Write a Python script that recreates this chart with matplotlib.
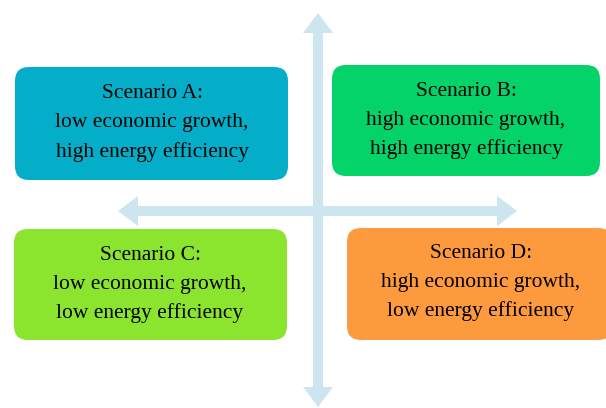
import matplotlib
matplotlib.use("Agg")
import matplotlib.pyplot as plt
from matplotlib.patches import FancyBboxPatch, FancyArrow

# === Contenu des quatre scénarios ===
titles = ["Scenario A:", "Scenario B:", "Scenario C:", "Scenario D:"]
growth = ["low economic growth,", "high economic growth,",
          "low economic growth,", "high economic growth,"]
efficiency = ["high energy efficiency", "high energy efficiency",
              "low energy efficiency", "low energy efficiency"]
colors = ["#05aec8", "#04d36a", "#8be52e", "#fd9a3e"]

# boxes en pixels : (x0, y0, x1, y1), texte centre (cx, y premiere ligne)
boxes = [(15, 67, 288, 180), (332, 65, 600, 176),
         (14, 229, 287, 340), (347, 228, 612, 340)]
text_pos = [(152, 94), (466, 91), (150, 255), (481, 253)]

W, H = 606, 408
fig = plt.figure(figsize=(W / 100, H / 100), dpi=100)
ax = fig.add_axes([0, 0, 1, 1])
ax.set_xlim(0, W)
ax.set_ylim(H, 0)
ax.axis("off")

arrow_col = "#cde5ee"
cx, cy = 318, 211
# === Axes (fleches) ===
for dx, dy in [(0, 13 - cy), (0, 407 - cy), (118 - cx, 0), (517 - cx, 0)]:
    ax.add_patch(FancyArrow(cx, cy, dx, dy, width=10, head_width=30, head_length=20,
                            length_includes_head=True, color=arrow_col, lw=0, zorder=1))

# === Boxes ===
for (x0, y0, x1, y1), c in zip(boxes, colors):
    ax.add_patch(FancyBboxPatch((x0 + 14, y0 + 14), x1 - x0 - 28, y1 - y0 - 28,
                                boxstyle="round,pad=14", fc=c, ec="none", zorder=2))

for (tx, ty), t, g, e in zip(text_pos, titles, growth, efficiency):
    for i, s in enumerate([t, g, e]):
        ax.text(tx, ty + i * 29, s, ha="center", va="center", fontsize=15.5,
                family="Liberation Serif", color="#000000", zorder=3)

fig.savefig("out.png", dpi=100)
